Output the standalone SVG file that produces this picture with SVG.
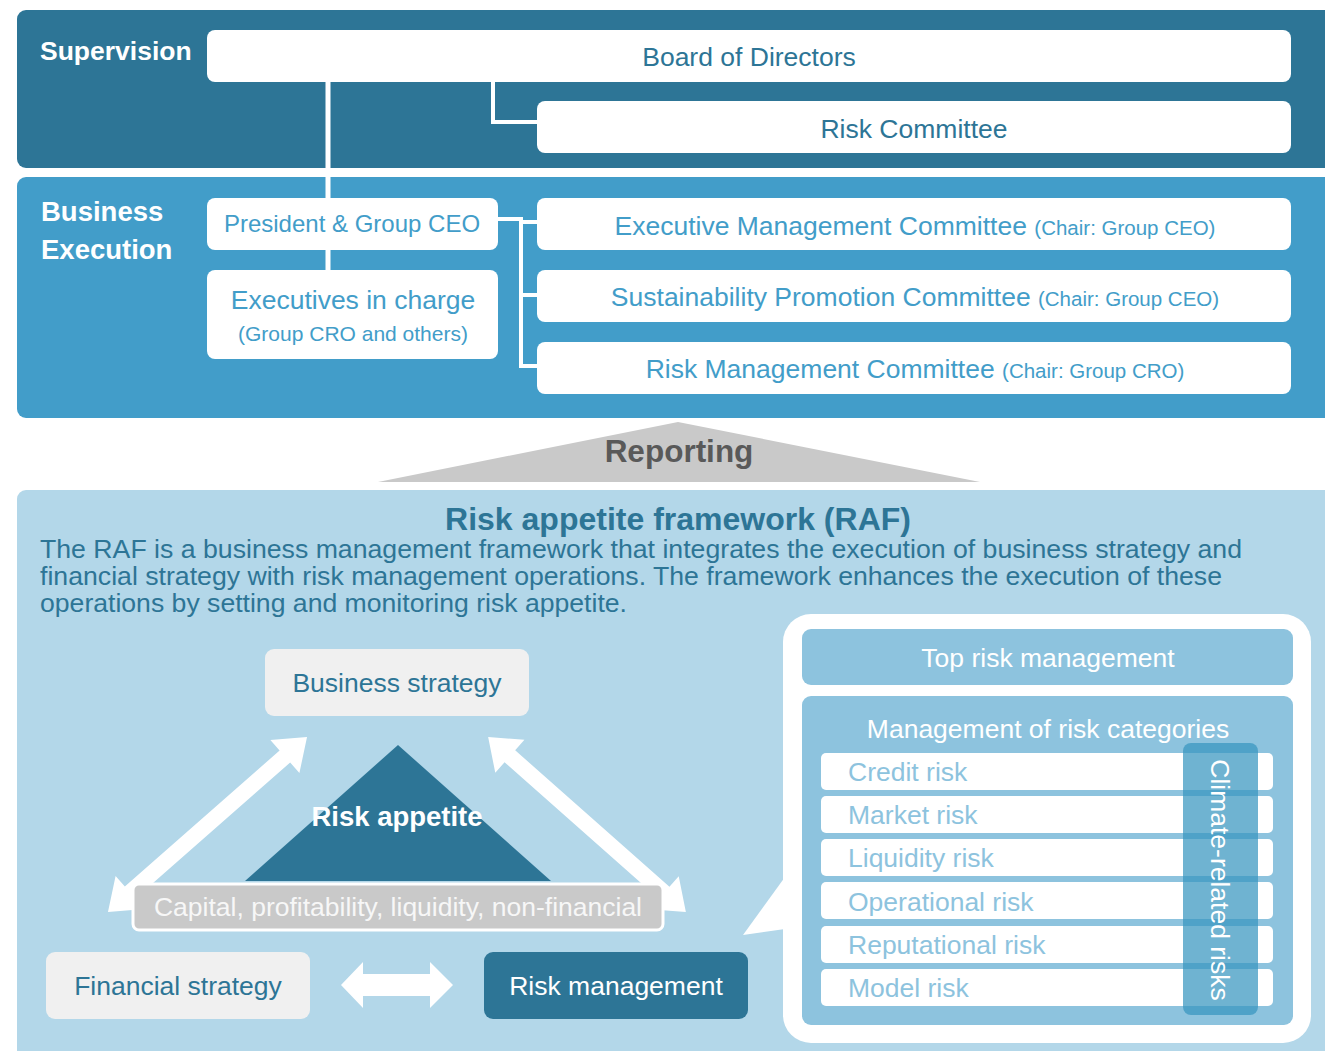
<svg xmlns="http://www.w3.org/2000/svg" width="1325" height="1051" viewBox="0 0 1325 1051">
<style>
text{font-family:"Liberation Sans",Arial,sans-serif}
.wbox{fill:#ffffff}
.t-dark{fill:#2D7596;font-size:26.5px}
.t-mid{fill:#429DC9;font-size:26.5px}
.t-mid-s{fill:#429DC9;font-size:21px}
.paren{font-size:20.5px}
.lbl{fill:#ffffff;font-weight:bold}
.gbox{fill:#F0F0F0}
.risk-row{fill:#ffffff}
.risk-t{fill:#8DC3DE;font-size:26.5px}
.conn{stroke:#ffffff;fill:none}
.warrow{fill:#ffffff}
</style>
<rect width="1325" height="1051" fill="#ffffff"/>

<g id="panel-supervision">
<rect x="17" y="10" width="1340" height="158" rx="9" fill="#2D7596"/>
<text class="lbl" x="40" y="60" style="font-size:26.5px">Supervision</text>
</g>
<g id="panel-business-execution">
<rect x="17" y="177" width="1340" height="241" rx="9" fill="#429DC9"/>
<text class="lbl" x="41" y="221" style="font-size:27.5px">Business</text>
<text class="lbl" x="41" y="259" style="font-size:27.5px">Execution</text>
</g>
<g id="panel-raf">
<rect x="17" y="490" width="1340" height="580" rx="9" fill="#B3D7E9"/>
<text x="678" y="530" text-anchor="middle" style="font-size:32px" font-weight="bold" fill="#2D7596">Risk appetite framework (RAF)</text>
<text x="40" y="558" style="font-size:26px" fill="#2D7596" textLength="1202" lengthAdjust="spacingAndGlyphs">The RAF is a business management framework that integrates the execution of business strategy and</text>
<text x="40" y="585" style="font-size:26px" fill="#2D7596" textLength="1182" lengthAdjust="spacingAndGlyphs">financial strategy with risk management operations. The framework enhances the execution of these</text>
<text x="40" y="612" style="font-size:26px" fill="#2D7596" textLength="587" lengthAdjust="spacingAndGlyphs">operations by setting and monitoring risk appetite.</text>
</g>

<g id="connectors">
<path class="conn" stroke-width="5" d="M328,82 V270"/>
<path class="conn" stroke-width="4" d="M493,82 V122 H537"/>
<path class="conn" stroke-width="4" d="M498,219 H521 M521,217 V368 M521,222 H537 M521,295 H537 M521,366 H537"/>
<polygon id="reporting-arrow" points="678,422 980,482 378,482" fill="#C9C9C9"/>
<path class="warrow" transform="translate(207.5,824.5) rotate(-41.3)" d="M-132.5,0 L-103,-22 L-103,-8 L103,-8 L103,-22 L132.5,0 L103,22 L103,8 L-103,8 L-103,22 Z"/>
<path class="warrow" transform="translate(587,824.5) rotate(41.5)" d="M-132,0 L-103,-22 L-103,-8 L103,-8 L103,-22 L132,0 L103,22 L103,8 L-103,8 L-103,22 Z"/>
<path class="warrow" d="M341,985 L363,962 L363,974 L430,974 L430,962 L453,985 L430,1008 L430,996 L363,996 L363,1008 Z"/>
</g>

<g id="reporting-label">
<text x="679" y="462" text-anchor="middle" style="font-size:31.5px" font-weight="bold" fill="#595959">Reporting</text>
</g>

<g id="node-board">
<rect class="wbox" x="207" y="30" width="1084" height="52" rx="8"/>
<text class="t-dark" x="749" y="66" text-anchor="middle">Board of Directors</text>
</g>
<g id="node-risk-committee">
<rect class="wbox" x="537" y="101" width="754" height="52" rx="8"/>
<text class="t-dark" x="914" y="138" text-anchor="middle">Risk Committee</text>
</g>
<g id="node-president">
<rect class="wbox" x="207" y="198" width="291" height="52" rx="8"/>
<text class="t-mid" x="352" y="232" text-anchor="middle" style="font-size:24px">President &amp; Group CEO</text>
</g>
<g id="node-executives">
<rect class="wbox" x="207" y="270" width="291" height="89" rx="8"/>
<text class="t-mid" x="353" y="309" text-anchor="middle">Executives in charge</text>
<text class="t-mid-s" x="353" y="341" text-anchor="middle">(Group CRO and others)</text>
</g>
<g id="node-exec-mgmt">
<rect class="wbox" x="537" y="198" width="754" height="52" rx="8"/>
<text class="t-mid" x="915" y="235" text-anchor="middle">Executive Management Committee <tspan class="paren">(Chair: Group CEO)</tspan></text>
</g>
<g id="node-sustainability">
<rect class="wbox" x="537" y="270" width="754" height="52" rx="8"/>
<text class="t-mid" x="915" y="306" text-anchor="middle">Sustainability Promotion Committee <tspan class="paren">(Chair: Group CEO)</tspan></text>
</g>
<g id="node-risk-mgmt-committee">
<rect class="wbox" x="537" y="342" width="754" height="52" rx="8"/>
<text class="t-mid" x="915" y="378" text-anchor="middle">Risk Management Committee <tspan class="paren">(Chair: Group CRO)</tspan></text>
</g>

<g id="node-business-strategy">
<rect class="gbox" x="265" y="649" width="264" height="67" rx="9"/>
<text class="t-dark" x="397" y="692" text-anchor="middle">Business strategy</text>
</g>
<g id="node-risk-appetite">
<polygon points="398,745 551,881 245,881" fill="#2D7596"/>
<text class="lbl" x="397" y="826" text-anchor="middle" style="font-size:27.5px">Risk appetite</text>
</g>
<g id="node-capital-band">
<rect x="133" y="884" width="530" height="46" rx="6" fill="#C9C9C9" stroke="#ffffff" stroke-width="3"/>
<text x="398" y="916" text-anchor="middle" style="font-size:26.5px" fill="#F7F7F7">Capital, profitability, liquidity, non-financial</text>
</g>
<g id="node-financial-strategy">
<rect class="gbox" x="46" y="952" width="264" height="67" rx="9"/>
<text class="t-dark" x="178" y="995" text-anchor="middle">Financial strategy</text>
</g>
<g id="node-risk-management">
<rect x="484" y="952" width="264" height="67" rx="9" fill="#2D7596"/>
<text x="616" y="995" text-anchor="middle" style="font-size:26.5px" fill="#ffffff">Risk management</text>
</g>

<g id="node-risk-bubble">
<rect x="783" y="614" width="528" height="429" rx="28" fill="#ffffff"/>
<polygon points="785,877 743,935 785,929" fill="#ffffff"/>
</g>
<g id="node-top-risk">
<rect x="802" y="629" width="491" height="56" rx="9" fill="#8DC3DE"/>
<text x="1048" y="667" text-anchor="middle" style="font-size:26.5px" fill="#ffffff">Top risk management</text>
</g>
<g id="node-risk-categories">
<rect x="802" y="696" width="491" height="329" rx="9" fill="#8DC3DE"/>
<text x="1048" y="738" text-anchor="middle" style="font-size:26.5px" fill="#ffffff">Management of risk categories</text>
<rect class="risk-row" x="821" y="753" width="452" height="37" rx="5"/>
<rect class="risk-row" x="821" y="796" width="452" height="37" rx="5"/>
<rect class="risk-row" x="821" y="839" width="452" height="37" rx="5"/>
<rect class="risk-row" x="821" y="882" width="452" height="37" rx="5"/>
<rect class="risk-row" x="821" y="926" width="452" height="37" rx="5"/>
<rect class="risk-row" x="821" y="969" width="452" height="37" rx="5"/>
<text class="risk-t" x="848" y="781">Credit risk</text>
<text class="risk-t" x="848" y="824">Market risk</text>
<text class="risk-t" x="848" y="867">Liquidity risk</text>
<text class="risk-t" x="848" y="911">Operational risk</text>
<text class="risk-t" x="848" y="954">Reputational risk</text>
<text class="risk-t" x="848" y="997">Model risk</text>
</g>
<g id="node-climate">
<rect x="1183" y="743" width="75" height="272" rx="8" fill="#3796BF" fill-opacity="0.72"/>
<text transform="translate(1220,880) rotate(90)" x="0" y="9" text-anchor="middle" style="font-size:26.5px" fill="#ffffff">Climate-related risks</text>
</g>
</svg>
